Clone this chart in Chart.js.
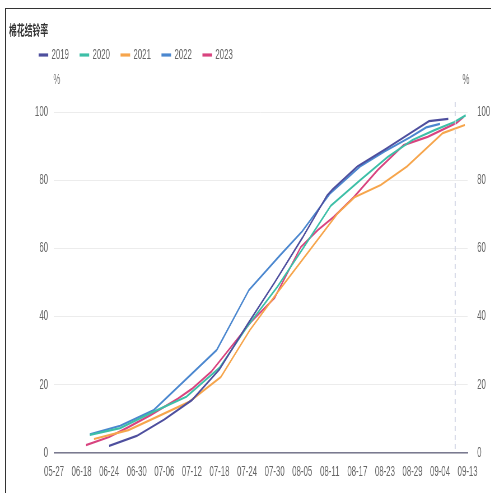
<!DOCTYPE html>
<html>
<head>
<meta charset="utf-8">
<script src="https://cdn.jsdelivr.net/npm/chart.js@4"></script>
<style>
  body { margin: 0; background: #fff; overflow: hidden; }
  #wrap {
    position: absolute; left: 0; top: 0;
    width: 877px; height: 493px;
    transform: scaleX(0.56); transform-origin: 0 0;
  }
  #frame {
    position: absolute; left: 5px; top: 8px;
    width: 520px; height: 520px;
    border-top: 1px solid #333; border-left: 1px solid #333;
    pointer-events: none;
  }
</style>
</head>
<body>
<div id="wrap"><canvas id="myChart"></canvas></div>
<div id="frame"></div>
<script>
//---------------------Data-----------------------------
const dates = ["05-27", "06-18", "06-24", "06-30", "07-06", "07-12", "07-18", "07-24",
  "07-30", "08-05", "08-11", "08-17", "08-23", "08-29", "09-04", "09-13"];
const yTicks = [0, 20, 40, 60, 80, 100];
const years = ["2019", "2020", "2021", "2022", "2023"];

// [position on date axis, %]
const s2019 = [[2.0, 2.1], [3.0, 5.0], [4.0, 9.8], [5.0, 15.5], [6.0, 24.5], [7.0, 37.5],
  [8.0, 50], [9.0, 63], [9.9, 75.5], [10.1, 77.3], [11.0, 84], [12.0, 89], [13.0, 94.2],
  [13.6, 97.3], [14.3, 98]];
const s2020 = [[1.3, 5.3], [2.4, 7.3], [3.5, 11.7], [4.8, 16.5], [6.0, 25], [7.0, 37],
  [8.1, 48.7], [9.06, 60.4], [10.04, 72.5], [11.1, 80], [12.1, 86.8], [13.0, 91.8],
  [13.8, 94.7], [14.5, 97], [14.93, 99]];
const s2021 = [[1.45, 4.1], [2.7, 6.7], [3.5, 9.7], [4.9, 15], [6.05, 22.3], [7.1, 36],
  [8.1, 47], [9.2, 58.7], [10.3, 70.4], [10.9, 75], [11.85, 78.6], [12.8, 84],
  [14.1, 93.8], [14.9, 96.2]];
const s2022 = [[1.3, 5.5], [2.4, 8], [3.6, 12.5], [5.9, 30.2], [7.07, 47.8], [8.2, 58],
  [9.0, 65], [10.0, 76], [11.1, 84], [12.0, 88.5], [12.9, 92.5], [13.5, 95.5], [14.0, 96.5]];
const s2023 = [[1.16, 2.3], [2.0, 4.7], [2.7, 7.6], [3.5, 11.1], [4.5, 16], [5.0, 18.8],
  [5.7, 23.8], [7.14, 38.4], [8.0, 45.5], [8.95, 60.4], [9.57, 65.4], [10.14, 69.2],
  [10.87, 75], [11.74, 83], [12.68, 90.3], [13.55, 92.7], [14.6, 96.8], [14.85, 98.5]];
const series = [s2019, s2020, s2021, s2022, s2023];
const colors = ["#4e4f9e", "#3dbfa7", "#f6a54c", "#4b87cf", "#d8437f"];
const cursorAt = 14.55; // dashed pointer line

//---------------------Plugins-----------------------------
const legendShift = {
  id: "legendShift",
  afterLayout(chart) {
    chart.legend.left += 34;
    chart.legend.top -= 40;
    chart.legend.bottom -= 40;
  },
};

const extras = {
  id: "extras",
  afterDraw(chart) {
    const ctx = chart.ctx;
    const area = chart.chartArea;
    const x = chart.scales.x.getPixelForValue(cursorAt);
    ctx.save();
    ctx.strokeStyle = "#d3d7e6";
    ctx.lineWidth = 2;
    ctx.setLineDash([5, 4]);
    ctx.beginPath();
    ctx.moveTo(x, area.top - 10);
    ctx.lineTo(x, area.bottom);
    ctx.stroke();
    ctx.setLineDash([]);
    ctx.fillStyle = "#777";
    ctx.font = "14px 'Liberation Sans', sans-serif";
    ctx.textAlign = "center";
    ctx.textBaseline = "middle";
    ctx.fillText("%", area.left + 5, 80);
    ctx.fillText("%", area.right - 3, 80);
    ctx.restore();
  },
};

//---------------------Chart-----------------------------
Chart.defaults.font.family = "'Liberation Sans', 'Noto Sans CJK SC', sans-serif";
Chart.defaults.font.size = 14;
Chart.defaults.color = "#666";

const datasets = years.map((y, i) => ({
  label: y,
  data: series[i].map((p) => ({ x: p[0], y: p[1] })),
  borderColor: colors[i],
  backgroundColor: colors[i],
  borderWidth: 2.2,
  pointRadius: 0,
  tension: 0,
  fill: false,
}));

const ctx = document.getElementById("myChart");

new Chart(ctx, {
  type: "line",
  data: { datasets: datasets },
  options: {
    responsive: true,
    maintainAspectRatio: false,
    animation: false,
    layout: { padding: { top: 0, left: 16, right: 0, bottom: 2 } },
    plugins: {
      tooltip: { enabled: false },
      title: {
        display: true,
        text: "棉花结铃率",
        align: "start",
        color: "#333",
        font: { size: 14, weight: "bold" },
        padding: { top: 22.6, bottom: 28.6 },
      },
      legend: {
        display: true,
        align: "start",
        labels: {
          boxWidth: 15,
          boxHeight: 1,
          padding: 20,
          color: "#666",
        },
      },
    },
    scales: {
      x: {
        type: "linear",
        min: 0,
        max: dates.length - 1,
        grid: { display: false, drawTicks: false },
        border: { display: true, color: "#7a7a90", width: 1.5 },
        ticks: {
          stepSize: 1,
          autoSkip: false,
          maxRotation: 0,
          padding: 10.6,
          callback: (v) => dates[v],
        },
      },
      y: {
        position: "left",
        min: yTicks[0],
        max: yTicks[yTicks.length - 1],
        grid: { color: "#ececec", drawTicks: false },
        border: { display: false },
        ticks: { stepSize: 20, padding: 10.7 },
        afterFit: (s) => { s.width = 80.4; },
      },
      y2: {
        position: "right",
        min: yTicks[0],
        max: yTicks[yTicks.length - 1],
        grid: { display: false, drawTicks: false },
        border: { display: false },
        ticks: { stepSize: 20, padding: 17 },
        afterFit: (s) => { s.width = 42; },
      },
    },
  },
  plugins: [legendShift, extras],
});
</script>
</body>
</html>
